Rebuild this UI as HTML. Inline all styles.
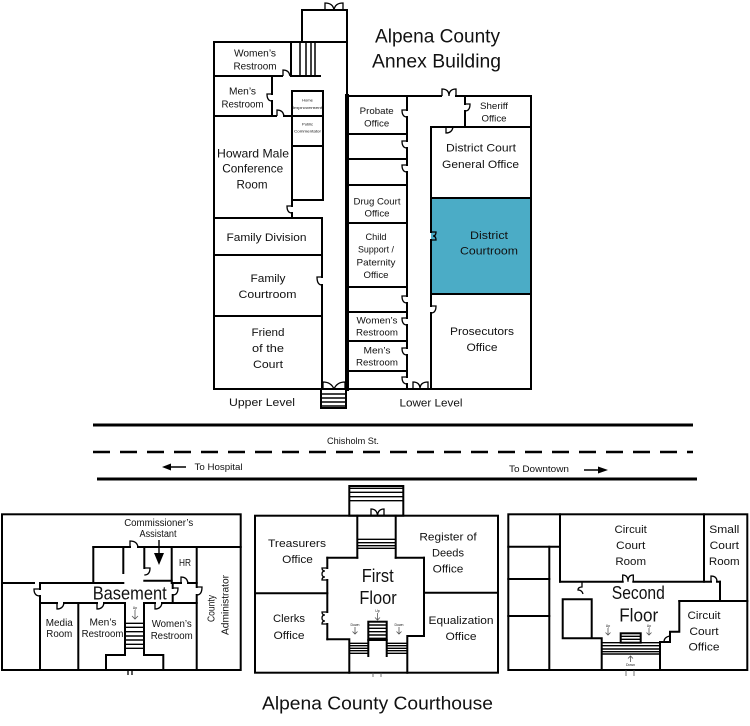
<!DOCTYPE html>
<html><head><meta charset="utf-8"><style>
html,body{margin:0;padding:0;background:#fff;}
svg{display:block;}
text{font-family:"Liberation Sans",Arial,sans-serif;fill:#111;}
</style></head><body>
<svg width="750" height="726" viewBox="0 0 750 726" xmlns="http://www.w3.org/2000/svg">
<!-- ============ ANNEX UPPER LEVEL ============ -->
<rect x="431" y="198" width="100" height="96" fill="#4bacc6"/>
<g stroke="#000" stroke-width="2" fill="none" stroke-linecap="square">
  <path d="M302 42 V10 H347"/>
  <path d="M214 42 H347"/>
  <path d="M214 42 V389"/>
  <path d="M347 10 V96"/>
  <path d="M291 42 V76"/>
  <path d="M214 76 H282 M291 76 H320"/>
  <path d="M272 76 V94 M272 101 V116"/>
  <path d="M214 116 H276 M284 116 H292"/>
  <rect x="292" y="91" width="31" height="25"/>
  <rect x="292" y="116" width="31" height="30"/>
  <rect x="292" y="146" width="31" height="54"/>
  <path d="M292 200 V206 M292 213 V218"/>
  <path d="M214 218 H322"/>
  <path d="M322 218 V277 M322 285 V389"/>
  <path d="M214 255 H322"/>
  <path d="M214 316 H322"/>
  <path d="M214 389 H347"/>
  <rect x="321" y="389" width="25" height="19"/>
</g>
<g stroke="#000" stroke-width="1.5" fill="none">
  <path d="M300 42 V76 M306 42 V76 M311 42 V76 M315 42 V76"/>
  <path d="M321 394 H346 M321 398 H346 M321 402 H346 M321 406 H346"/>
</g>
<!-- doors upper -->
<g stroke="#000" stroke-width="1.3" fill="none">
  <path d="M325 10 V3 Q333 3 334 10 M343 10 V3 Q335 3 334 10"/>
  <path d="M283 76 V70 Q289 70 290 76"/>
  <path d="M272 94 H267 Q267 101 272 101"/>
  <path d="M277 116 V110 Q283 110 284 116"/>
  <path d="M292 206 H287 Q287 213 292 213"/>
  <path d="M322 277 H317 Q317 285 322 285"/>
  <path d="M323 389 V382 Q331 382 334 389 M345 389 V382 Q337 382 334 389"/>
</g>
<!-- ============ ANNEX LOWER LEVEL ============ -->
<g stroke="#000" stroke-width="2" fill="none" stroke-linecap="square">
  <path d="M347 96 V389" stroke-width="4"/>
  <path d="M347 96 H441 M456 96 H531 V389 H347"/>
  <path d="M407 96 V110 M407 117 V141 M407 148 V165 M407 172 V296 M407 303 V318 M407 325 V348 M407 355 V377 M407 384 V389"/>
  <path d="M347 134 H407 M347 159 H407 M347 185 H407 M347 223 H407 M347 287 H407 M347 312 H407 M347 341 H407 M347 371 H407"/>
  <path d="M465 96 V104 M465 111 V127"/>
  <path d="M431 127 H531"/>
  <path d="M431 127 V232 M431 240 V306 M431 313 V389"/>
  <path d="M431 198 H531"/>
  <path d="M431 294 H531"/>
</g>
<g stroke="#000" stroke-width="1.3" fill="none">
  <path d="M442 96 V89 Q449 89 449 96 M456 96 V89 Q449 89 449 96"/>
  <path d="M407 110 H402 Q402 117 407 117"/>
  <path d="M407 141 H402 Q402 148 407 148"/>
  <path d="M407 165 H402 Q402 172 407 172"/>
  <path d="M407 296 H402 Q402 303 407 303"/>
  <path d="M407 318 H402 Q402 325 407 325"/>
  <path d="M407 348 H402 Q402 355 407 355"/>
  <path d="M407 377 H402 Q402 384 407 384"/>
  <path d="M465 104 H470 Q470 111 465 111"/>
  <path d="M446 127 V133 Q452 133 453 127"/>
  <path d="M431 232 H436 Q436 236 433 236 Q436 236 436 240 H431"/>
  <path d="M431 306 H436 Q436 313 431 313"/>
  <path d="M413 389 V382 Q420 382 420 389 M428 389 V382 Q420 382 420 389"/>
</g>
<!-- annex text -->
<text x="437.5" y="42.5" font-size="19" text-anchor="middle" textLength="125" lengthAdjust="spacingAndGlyphs">Alpena County</text>
<text x="436.5" y="67.5" font-size="19" text-anchor="middle" textLength="129" lengthAdjust="spacingAndGlyphs">Annex Building</text>
<g font-size="10" text-anchor="middle">
  <text x="255" y="56.5" textLength="42" lengthAdjust="spacingAndGlyphs">Women’s</text>
  <text x="255" y="69.5" textLength="43" lengthAdjust="spacingAndGlyphs">Restroom</text>
  <text x="242.5" y="94.5" textLength="27" lengthAdjust="spacingAndGlyphs">Men’s</text>
  <text x="242.5" y="107.5" textLength="42" lengthAdjust="spacingAndGlyphs">Restroom</text>
</g>
<g font-size="4" text-anchor="middle" fill="#555">
  <text x="307.5" y="101.5">Home</text>
  <text x="307.5" y="109" textLength="30" lengthAdjust="spacingAndGlyphs">Improvement</text>
  <text x="307.5" y="125.5">Public</text>
  <text x="307.5" y="132.5" textLength="27" lengthAdjust="spacingAndGlyphs">Commentator</text>
</g>
<g font-size="12" text-anchor="middle">
  <text x="253" y="157.5" textLength="72" lengthAdjust="spacingAndGlyphs">Howard Male</text>
  <text x="252.7" y="172.5" textLength="61" lengthAdjust="spacingAndGlyphs">Conference</text>
  <text x="252" y="188.5" textLength="31" lengthAdjust="spacingAndGlyphs">Room</text>
</g>
<g font-size="11" text-anchor="middle">
  <text x="266.5" y="241" textLength="80" lengthAdjust="spacingAndGlyphs">Family Division</text>
  <text x="268" y="282" textLength="35" lengthAdjust="spacingAndGlyphs">Family</text>
  <text x="267.5" y="298" textLength="58" lengthAdjust="spacingAndGlyphs">Courtroom</text>
  <text x="268" y="336" textLength="33" lengthAdjust="spacingAndGlyphs">Friend</text>
  <text x="268" y="352" textLength="32" lengthAdjust="spacingAndGlyphs">of the</text>
  <text x="268" y="368" textLength="30" lengthAdjust="spacingAndGlyphs">Court</text>
  <text x="262" y="406" textLength="66" lengthAdjust="spacingAndGlyphs">Upper Level</text>
  <text x="431" y="406.3" textLength="63" lengthAdjust="spacingAndGlyphs">Lower Level</text>
  <text x="481" y="151.7" textLength="70" lengthAdjust="spacingAndGlyphs">District Court</text>
  <text x="480.5" y="168" textLength="77" lengthAdjust="spacingAndGlyphs">General Office</text>
  <text x="489" y="239" textLength="38" lengthAdjust="spacingAndGlyphs">District</text>
  <text x="489" y="254.7" textLength="58" lengthAdjust="spacingAndGlyphs">Courtroom</text>
  <text x="482" y="335" textLength="64" lengthAdjust="spacingAndGlyphs">Prosecutors</text>
  <text x="482" y="351" textLength="31" lengthAdjust="spacingAndGlyphs">Office</text>
</g>
<g font-size="9.5" text-anchor="middle">
  <text x="376.7" y="114" textLength="34" lengthAdjust="spacingAndGlyphs">Probate</text>
  <text x="376.7" y="126.6" textLength="25" lengthAdjust="spacingAndGlyphs">Office</text>
  <text x="494" y="109" textLength="28" lengthAdjust="spacingAndGlyphs">Sheriff</text>
  <text x="494" y="121.3" textLength="25" lengthAdjust="spacingAndGlyphs">Office</text>
  <text x="377" y="204.3" textLength="47" lengthAdjust="spacingAndGlyphs">Drug Court</text>
  <text x="377" y="216.6" textLength="25" lengthAdjust="spacingAndGlyphs">Office</text>
  <text x="376" y="240" textLength="21" lengthAdjust="spacingAndGlyphs">Child</text>
  <text x="376" y="252.6" textLength="36" lengthAdjust="spacingAndGlyphs">Support /</text>
  <text x="376" y="265.3" textLength="39" lengthAdjust="spacingAndGlyphs">Paternity</text>
  <text x="376" y="278" textLength="25" lengthAdjust="spacingAndGlyphs">Office</text>
  <text x="377" y="323.3" textLength="41" lengthAdjust="spacingAndGlyphs">Women’s</text>
  <text x="377" y="335.6" textLength="42" lengthAdjust="spacingAndGlyphs">Restroom</text>
  <text x="377" y="353.3" textLength="27" lengthAdjust="spacingAndGlyphs">Men’s</text>
  <text x="377" y="365.6" textLength="42" lengthAdjust="spacingAndGlyphs">Restroom</text>
</g>
<!-- ============ STREET ============ -->
<g stroke="#000" fill="none">
  <path d="M93 425 H693" stroke-width="3"/>
  <path d="M93 452 H693" stroke-width="2.5" stroke-dasharray="17 10"/>
  <path d="M97 479 H697" stroke-width="3"/>
  <path d="M170 467 H186" stroke-width="1.5"/>
  <path d="M584 470 H598" stroke-width="1.5"/>
</g>
<path d="M162 467 L171 463.5 L171 470.5 Z" fill="#000"/>
<path d="M608 470 L598 466.5 L598 473.5 Z" fill="#000"/>
<g font-size="9" text-anchor="middle">
  <text x="353" y="444" textLength="52" lengthAdjust="spacingAndGlyphs">Chisholm St.</text>
  <text x="218.5" y="470" textLength="48" lengthAdjust="spacingAndGlyphs">To Hospital</text>
  <text x="539" y="472" textLength="60" lengthAdjust="spacingAndGlyphs">To Downtown</text>
</g>
<!-- ============ BASEMENT ============ -->
<g stroke="#000" stroke-width="2" fill="none" stroke-linecap="square">
  <rect x="2" y="514.3" width="238.7" height="155.7"/>
  <path d="M93.3 547 H130 M138 547 H240.7"/>
  <path d="M93.3 547 V583"/>
  <path d="M2 583 H34 M41 583 H123.3"/>
  <path d="M123.3 547 V573"/>
  <path d="M144.3 547 V568 M144.3 580.7 H171.7"/>
  <path d="M171.7 547 V583 M171.7 583 H181 M188 583 H196.7"/>
  <path d="M196.7 547 V587 M196.7 595 V670"/>
  <path d="M172.7 583 V588 M172.7 595 V603"/>
  <path d="M40 583 V589 M40 596 V670"/>
  <path d="M40 603 H57 M64 603 H97 M104 603 H125 M145 603 H155 M162 603 H196.7"/>
  <path d="M78.3 603 V670"/>
  <path d="M125 603 V655 M144 603 V655"/>
  <path d="M106 655 H125 M144 655 H163.3 M106 655 V670 M163.3 655 V670"/>
</g>
<g stroke="#000" stroke-width="1.4" fill="none">
  <path d="M125 623.3 H144 M125 627.3 H144 M125 631.7 H144 M125 636 H144 M125 640 H144 M125 644.3 H144 M125 648.3 H144"/>
  <path d="M159 540 V555"/>
</g>
<g stroke="#000" stroke-width="1.3" fill="none">
  <path d="M130 547 V541 Q137 541 138 547"/>
  <path d="M144.3 568 H150 Q150 575 144.3 575"/>
  <path d="M181 583 V577 Q187 577 188 583"/>
  <path d="M196.7 587 H202 Q202 595 196.7 595"/>
  <path d="M172.7 588 H178 Q178 595 172.7 595"/>
  <path d="M40 589 H34 Q34 596 40 596"/>
  <path d="M57 603 V609 Q63 609 64 603"/>
  <path d="M97 603 V609 Q103 609 104 603"/>
  <path d="M155 603 V609 Q161 609 162 603"/>
  <path d="M128 670 V675 M132 670 V675"/>
  <path d="M135 610 V619 M132 616 L135 619 L138 616" stroke="#555" stroke-width="0.8"/>
</g>
<path d="M154 553 L164 553 L159 565 Z" fill="#000"/>
<g text-anchor="middle">
  <text x="158.7" y="525.8" font-size="10" textLength="69" lengthAdjust="spacingAndGlyphs">Commissioner’s</text>
  <text x="158" y="536.8" font-size="10" textLength="37" lengthAdjust="spacingAndGlyphs">Assistant</text>
  <text x="185" y="566.2" font-size="10" textLength="12" lengthAdjust="spacingAndGlyphs">HR</text>
  <text x="129.7" y="599.6" font-size="18" textLength="74" lengthAdjust="spacingAndGlyphs">Basement</text>
  <text x="0" y="0" font-size="10" transform="translate(214.5,608.5) rotate(-90)" textLength="27" lengthAdjust="spacingAndGlyphs">County</text>
  <text x="0" y="0" font-size="10" transform="translate(228.5,605) rotate(-90)" textLength="60" lengthAdjust="spacingAndGlyphs">Administrator</text>
  <text x="59.3" y="625.8" font-size="10" textLength="27" lengthAdjust="spacingAndGlyphs">Media</text>
  <text x="59.3" y="636.8" font-size="10" textLength="26" lengthAdjust="spacingAndGlyphs">Room</text>
  <text x="103" y="625.5" font-size="10" textLength="27" lengthAdjust="spacingAndGlyphs">Men’s</text>
  <text x="102.5" y="636.8" font-size="10" textLength="41.7" lengthAdjust="spacingAndGlyphs">Restroom</text>
  <text x="171.7" y="626.8" font-size="10" textLength="40" lengthAdjust="spacingAndGlyphs">Women’s</text>
  <text x="171.7" y="639.2" font-size="10" textLength="42" lengthAdjust="spacingAndGlyphs">Restroom</text>
  <text x="135" y="609" font-size="3.5" fill="#555">Up</text>
</g>
<!-- ============ FIRST FLOOR ============ -->
<g stroke="#000" stroke-width="2" fill="none" stroke-linecap="square">
  <rect x="255" y="515.7" width="243" height="157"/>
  <rect x="349.3" y="486" width="54" height="29.7"/>
  <path d="M357.3 515.7 V557.7 M395.7 515.7 V557.7"/>
  <path d="M327.3 557.7 H357.3 M395.7 557.7 H424"/>
  <path d="M327.3 557.7 V568 M327.3 580 V612 M327.3 624 V639.3"/>
  <path d="M255 593.3 H327.3"/>
  <path d="M424 557.7 V636 M424 592.7 H498"/>
  <path d="M327.3 639.3 H349.3 V672.7"/>
  <path d="M424 636 H407.3 V672.7"/>
  <rect x="368.3" y="621.7" width="18.4" height="18.3"/>
  <path d="M368.3 640 V656 M386.7 640 V656"/>
</g>
<g stroke="#000" stroke-width="1.4" fill="none">
  <path d="M349.3 488.3 H403.3 M349.3 492.3 H403.3 M349.3 496.7 H403.3 M349.3 500.7 H403.3"/>
  <path d="M357.3 539.3 H395.7 M357.3 542.7 H395.7 M357.3 545.7 H395.7 M357.3 548.3 H395.7"/>
  <path d="M368.3 625 H386.7 M368.3 628.3 H386.7 M368.3 631.7 H386.7 M368.3 635 H386.7 M368.3 638.3 H386.7"/>
  <path d="M349.3 643.3 H368.3 M349.3 645.7 H368.3 M349.3 648.3 H368.3 M349.3 650.7 H368.3 M349.3 653.3 H368.3"/>
  <path d="M386.7 643.3 H407.3 M386.7 645.7 H407.3 M386.7 648.3 H407.3 M386.7 650.7 H407.3 M386.7 653.3 H407.3"/>
</g>
<g stroke="#000" stroke-width="1.3" fill="none">
  <path d="M371 515.7 V509 Q377 509 377.5 515.7 M384 515.7 V509 Q378 509 377.5 515.7"/>
  <path d="M327.3 568 H322 Q322 571 325 571 Q322 571 322 574 Q322 577 325 577 Q322 577 322 580 H327.3"/>
  <path d="M327.3 612 H322 Q322 615 325 615 Q322 615 322 618 Q322 621 325 621 Q322 621 322 624 H327.3"/>
  <g stroke="#555" stroke-width="0.8">
    <path d="M377.5 613 V620 M375 617.5 L377.5 620 L380 617.5"/>
    <path d="M355 627 V634 M352.5 631.5 L355 634 L357.5 631.5"/>
    <path d="M399 627 V634 M396.5 631.5 L399 634 L401.5 631.5"/>
    <path d="M373 672.7 V677 M381 672.7 V677"/>
  </g>
</g>
<g text-anchor="middle">
  <text x="297" y="547.2" font-size="11" textLength="58" lengthAdjust="spacingAndGlyphs">Treasurers</text>
  <text x="297.5" y="563" font-size="11" textLength="30.7" lengthAdjust="spacingAndGlyphs">Office</text>
  <text x="448" y="540.6" font-size="11" textLength="57.3" lengthAdjust="spacingAndGlyphs">Register of</text>
  <text x="448" y="556.4" font-size="11" textLength="32" lengthAdjust="spacingAndGlyphs">Deeds</text>
  <text x="448" y="572.6" font-size="11" textLength="30.7" lengthAdjust="spacingAndGlyphs">Office</text>
  <text x="377.7" y="582" font-size="18" textLength="32" lengthAdjust="spacingAndGlyphs">First</text>
  <text x="378" y="604" font-size="18" textLength="37.3" lengthAdjust="spacingAndGlyphs">Floor</text>
  <text x="289" y="622.2" font-size="11" textLength="32" lengthAdjust="spacingAndGlyphs">Clerks</text>
  <text x="289" y="638.9" font-size="11" textLength="31" lengthAdjust="spacingAndGlyphs">Office</text>
  <text x="461" y="623.9" font-size="11" textLength="65" lengthAdjust="spacingAndGlyphs">Equalization</text>
  <text x="461" y="639.9" font-size="11" textLength="31" lengthAdjust="spacingAndGlyphs">Office</text>
  <text x="377.5" y="612" font-size="3.5" fill="#555">Up</text>
  <text x="355" y="626" font-size="3.5" fill="#555">Down</text>
  <text x="399" y="626" font-size="3.5" fill="#555">Down</text>
</g>
<!-- ============ SECOND FLOOR ============ -->
<g stroke="#000" stroke-width="2" fill="none" stroke-linecap="square">
  <rect x="508.3" y="514.3" width="239" height="155.7"/>
  <path d="M508.3 546.7 H560 M508.3 579 H549.3 M508.3 616 H549.3"/>
  <path d="M549.3 546.7 V670"/>
  <path d="M560 514.3 V581.7"/>
  <path d="M560 581.7 H622.7 M633.3 581.7 H711 M717 581.7 H720"/>
  <path d="M704 514.3 V581.7"/>
  <path d="M720 581.7 V601"/>
  <path d="M679.3 601 H747.3"/>
  <path d="M679.3 601 V631.7 H670 V642 H660 V670"/>
  <path d="M562.7 599.3 H591.7 V638.3 M562.7 599.3 V638.3 H601.7 V670"/>
  <rect x="620.7" y="633.3" width="20" height="9.4"/>
</g>
<g stroke="#000" stroke-width="1.4" fill="none">
  <path d="M601.7 642.7 H660 M601.7 645.7 H660 M601.7 649 H660 M601.7 651.7 H660 M601.7 654 H660"/>
  <path d="M620.7 636.3 H640.7 M620.7 639.3 H640.7"/>
</g>
<g stroke="#000" stroke-width="1.3" fill="none">
  <path d="M622.7 581.7 V575 Q628 575 628 581.7 M633.3 581.7 V575 Q628 575 628 581.7"/>
  <path d="M711 581.7 V576 Q717 576 717 581.7"/>
  <path d="M582 581.7 V587 Q578 587 578 590 Q582 590 583 594"/>
  <path d="M670 636 Q664 637 664 642"/>
  <g stroke="#555" stroke-width="0.8">
    <path d="M608 628 V635 M605.5 632.5 L608 635 L610.5 632.5"/>
    <path d="M649 628 V635 M646.5 632.5 L649 635 L651.5 632.5"/>
    <path d="M630.5 662 V656 M628 658.5 L630.5 656 L633 658.5"/>
    <path d="M626 670 V676 M634 670 V676"/>
  </g>
</g>
<g text-anchor="middle">
  <text x="630.7" y="532.8" font-size="11" textLength="32.3" lengthAdjust="spacingAndGlyphs">Circuit</text>
  <text x="630.7" y="548.8" font-size="11" textLength="29.3" lengthAdjust="spacingAndGlyphs">Court</text>
  <text x="630.7" y="564.8" font-size="11" textLength="30.7" lengthAdjust="spacingAndGlyphs">Room</text>
  <text x="724.3" y="532.8" font-size="11" textLength="30" lengthAdjust="spacingAndGlyphs">Small</text>
  <text x="724.3" y="548.8" font-size="11" textLength="29.3" lengthAdjust="spacingAndGlyphs">Court</text>
  <text x="724.3" y="564.8" font-size="11" textLength="30.7" lengthAdjust="spacingAndGlyphs">Room</text>
  <text x="638.3" y="599" font-size="18" textLength="53" lengthAdjust="spacingAndGlyphs">Second</text>
  <text x="638.7" y="621.3" font-size="18" textLength="39" lengthAdjust="spacingAndGlyphs">Floor</text>
  <text x="704" y="618.8" font-size="11" textLength="33" lengthAdjust="spacingAndGlyphs">Circuit</text>
  <text x="704" y="634.8" font-size="11" textLength="29.3" lengthAdjust="spacingAndGlyphs">Court</text>
  <text x="704" y="650.5" font-size="11" textLength="31" lengthAdjust="spacingAndGlyphs">Office</text>
  <text x="608" y="627" font-size="3.5" fill="#555">Up</text>
  <text x="649" y="627" font-size="3.5" fill="#555">Up</text>
  <text x="630.5" y="666" font-size="3.5" fill="#555">Down</text>
</g>
<!-- bottom title -->
<text x="377.5" y="709.5" font-size="18" text-anchor="middle" textLength="231" lengthAdjust="spacingAndGlyphs">Alpena County Courthouse</text>
</svg>
</body></html>
